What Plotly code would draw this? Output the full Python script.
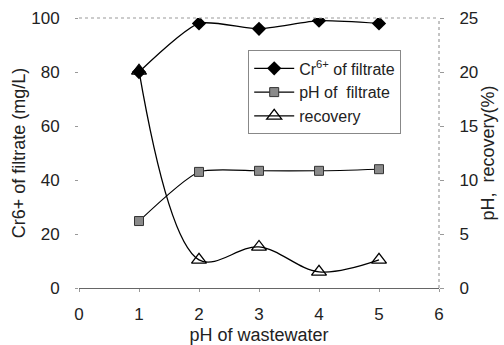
import plotly.graph_objects as go

ph_ww = [1, 2, 3, 4, 5]
cr6 = [80, 98, 96, 99, 98]
ph_filtrate = [6.2, 10.75, 10.85, 10.85, 11.0]
recovery = [20.1, 2.6, 3.8, 1.5, 2.6]

font = "Liberation Sans, Arial, sans-serif"
fig = go.Figure()
fig.add_trace(go.Scatter(x=ph_ww, y=cr6, name="Cr<sup>6+</sup> of filtrate", mode="lines+markers",
                         line=dict(color="black", width=1.3, shape="spline", smoothing=0.6),
                         marker=dict(symbol="diamond", size=11, color="black")))
fig.add_trace(go.Scatter(x=ph_ww, y=ph_filtrate, name="pH of  filtrate", mode="lines+markers", yaxis="y2",
                         line=dict(color="black", width=1.1, shape="spline", smoothing=0.6),
                         marker=dict(symbol="square", size=9, color="#8a8a8a", line=dict(color="#333", width=1))))
fig.add_trace(go.Scatter(x=ph_ww, y=recovery, name="recovery", mode="lines+markers", yaxis="y2",
                         line=dict(color="black", width=1.3, shape="spline", smoothing=1),
                         marker=dict(symbol="triangle-up-open", size=13, color="black", line=dict(width=1.3))))

tickfont = dict(size=17, color="#222")
fig.update_layout(
    width=504, height=345, margin=dict(l=79, r=65, t=18, b=57),
    paper_bgcolor="white", plot_bgcolor="white",
    font=dict(family=font, size=15, color="#222"),
    showlegend=True,
    legend=dict(x=0.47, y=0.88, xanchor="left", yanchor="top", bgcolor="white",
                bordercolor="#888", borderwidth=1, font=dict(size=16), tracegroupgap=0,
                itemwidth=40),
    xaxis=dict(range=[0, 6], dtick=1, showgrid=False, zeroline=False, showline=True, automargin=False,
               linecolor="#666", linewidth=1, ticks="outside", ticklen=3, tickcolor="#999",
               tickfont=tickfont, ticklabelstandoff=8,
               title=dict(text="pH of wastewater", standoff=5)),
    yaxis=dict(range=[0, 100], dtick=20, showgrid=False, zeroline=False, showline=False, automargin=False,
               ticks="outside", ticklen=3, tickcolor="#999", tickfont=tickfont, ticklabelstandoff=12,
               title=dict(text="Cr6+ of filtrate (mg/L)", standoff=0)),
    yaxis2=dict(range=[0, 25], dtick=5, overlaying="y", side="right", showgrid=False, zeroline=False,
                showline=False, ticks="outside", ticklen=4, tickcolor="#999", tickfont=tickfont,
                ticklabelstandoff=12, automargin=False,
                title=dict(text="pH,  recovery(%)", standoff=4)),
)
fig.add_shape(type="line", xref="paper", yref="paper", x0=0, x1=1, y0=1, y1=1,
              line=dict(color="#999", width=1, dash="dot"))
fig.add_shape(type="line", xref="paper", yref="paper", x0=1, x1=1, y0=0, y1=1,
              line=dict(color="#888", width=1, dash="dot"))
fig.write_html("out.html")
